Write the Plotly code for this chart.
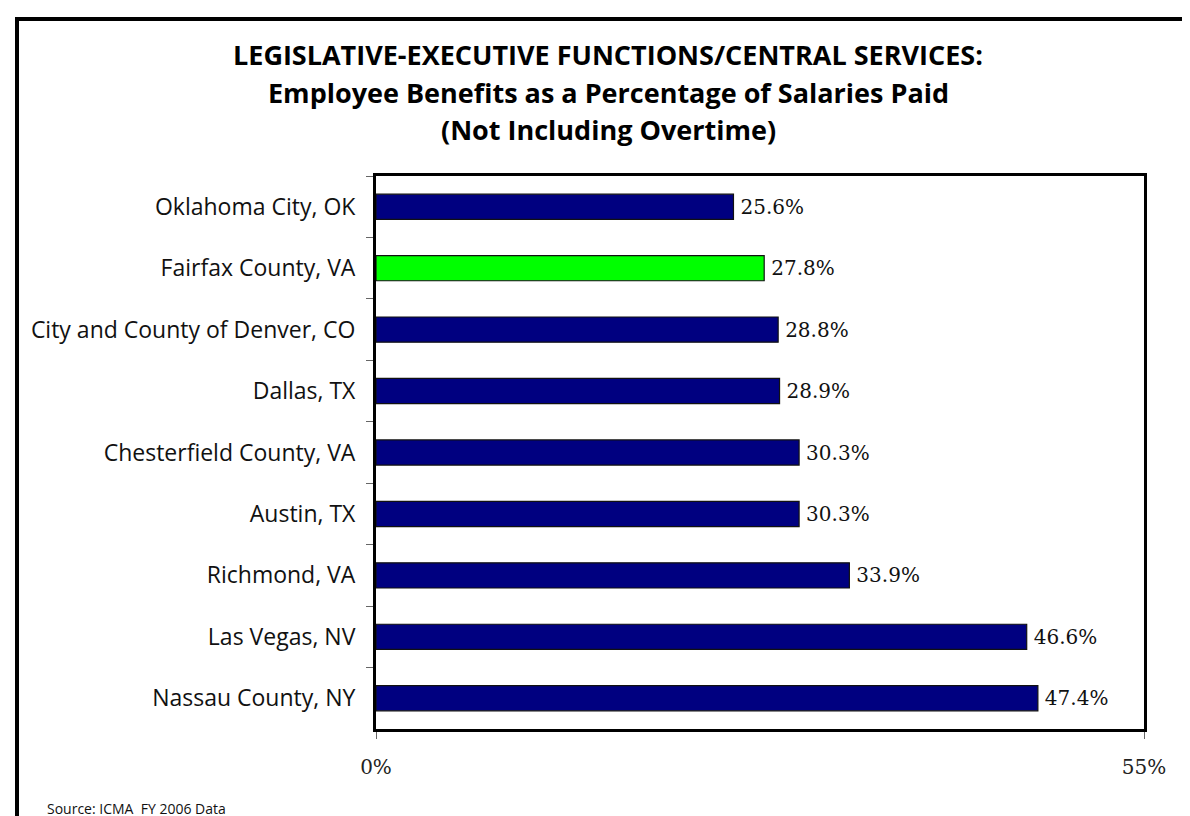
import plotly.graph_objects as go

categories = [
    "Oklahoma City, OK",
    "Fairfax County, VA",
    "City and County of Denver, CO",
    "Dallas, TX",
    "Chesterfield County, VA",
    "Austin, TX",
    "Richmond, VA",
    "Las Vegas, NV",
    "Nassau County, NY",
]
values = [25.6, 27.8, 28.8, 28.9, 30.3, 30.3, 33.9, 46.6, 47.4]
highlight = "Fairfax County, VA"
x_tick_vals = [0, 55]
x_tick_text = ["0%", "55%"]
title_lines = [
    "LEGISLATIVE-EXECUTIVE FUNCTIONS/CENTRAL SERVICES:",
    "Employee Benefits as a Percentage of Salaries Paid",
    "(Not Including Overtime)",
]
source_text = "Source: ICMA  FY 2006 Data"

NAVY = "#000080"
GREEN = "#00FF00"
colors = [GREEN if c == highlight else NAVY for c in categories]

SANS = "'Open Sans', Lato, sans-serif"
SERIF = "'DejaVu Serif', 'Liberation Serif', serif"

W, H = 1190, 816
L, R, T, B = 368, 1190 - 1136, 168, 816 - 721
pw, ph = W - L - R, H - T - B


def px_x(p):
    return (p - L) / pw


def px_y(p):
    return (H - B - p) / ph


fig = go.Figure(
    go.Bar(
        y=categories,
        x=values,
        orientation="h",
        marker=dict(color=colors, line=dict(color="#111111", width=1.2)),
        text=["\u2009" + f"{v:.1f}%" for v in values],
        textposition="outside",
        textfont=dict(family=SERIF, size=20, color="#111111"),
        cliponaxis=False,
        hoverinfo="skip",
    )
)

title_annotations = [
    dict(
        text=f"<b>{line}</b>",
        xref="paper",
        yref="paper",
        x=px_x(600),
        y=px_y(yc),
        xanchor="center",
        yanchor="middle",
        showarrow=False,
        font=dict(family=SANS, size=27, color="black"),
    )
    for line, yc in zip(title_lines, [46, 84, 121])
]

fig.update_layout(
    width=W,
    height=H,
    margin=dict(l=L, r=R, t=T, b=B),
    paper_bgcolor="white",
    plot_bgcolor="white",
    showlegend=False,
    bargap=0.59,
    xaxis=dict(
        range=[0, 55],
        tickvals=x_tick_vals,
        ticktext=x_tick_text,
        showgrid=False,
        zeroline=False,
        showline=True,
        linecolor="black",
        linewidth=3,
        mirror=True,
        ticks="outside",
        ticklen=7,
        tickcolor="#666666",
        tickfont=dict(family=SERIF, size=20, color="#222222"),
        ticklabelstandoff=11,
    ),
    yaxis=dict(
        categoryorder="array",
        categoryarray=categories,
        autorange="reversed",
        showgrid=False,
        zeroline=False,
        showline=True,
        linecolor="black",
        linewidth=3,
        mirror=True,
        ticks="outside",
        ticklen=7,
        tickcolor="#666666",
        tickson="boundaries",
        tickfont=dict(family=SANS, size=23, color="#111111"),
        ticklabelstandoff=13,
    ),
    shapes=[
        dict(
            type="rect",
            xref="paper",
            yref="paper",
            x0=px_x(9),
            x1=px_x(1210),
            y0=px_y(836),
            y1=px_y(11),
            line=dict(color="black", width=4),
            fillcolor="rgba(0,0,0,0)",
            layer="below",
        )
    ],
    annotations=title_annotations
    + [
        dict(
            text=source_text,
            xref="paper",
            yref="paper",
            x=px_x(37),
            y=px_y(800),
            xanchor="left",
            yanchor="middle",
            showarrow=False,
            font=dict(family=SANS, size=14, color="#111111"),
        )
    ],
)

fig.write_html("out.html")
